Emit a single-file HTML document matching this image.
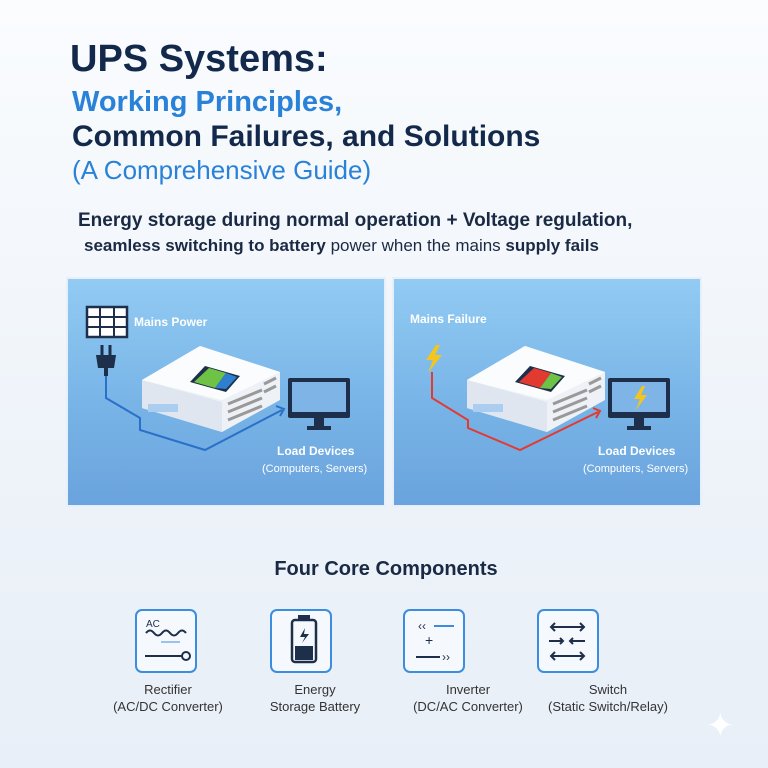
<!DOCTYPE html>
<html><head><style>
body{margin:0;width:768px;height:768px;overflow:hidden;background:linear-gradient(180deg,#fafcfe 0%,#eef3f9 60%,#e8eff8 100%);font-family:"Liberation Sans",sans-serif;position:relative}
.t{position:absolute;white-space:nowrap}
.panel{position:absolute;top:277px;height:226px;background:linear-gradient(180deg,#92cbf3 0%,#7ab6e8 50%,#6aa3dd 100%);border:2px solid #e6f0fa}
.ib{position:absolute;top:609px;width:58px;height:60px;border:2px solid #3b8de0;border-radius:7px;background:#f5f9fd}
.lb{position:absolute;top:681px;width:160px;text-align:center;font-size:13px;color:#333;line-height:17px}
</style></head><body>
<div class="t" style="left:70px;top:38px;font-size:38px;font-weight:bold;color:#13294b">UPS Systems:</div>
<div class="t" style="left:72px;top:86px;font-size:29px;font-weight:bold;color:#2a82d8">Working Principles,</div>
<div class="t" style="left:72px;top:120px;font-size:30px;font-weight:bold;color:#13294b">Common Failures, and Solutions</div>
<div class="t" style="left:72px;top:155px;font-size:26px;color:#2a82d8">(A Comprehensive Guide)</div>
<div class="t" style="left:78px;top:210px;font-size:19px;font-weight:bold;color:#1a2a44">Energy storage during normal operation + Voltage regulation,</div>
<div class="t" style="left:84px;top:236px;font-size:17px;font-weight:bold;color:#1a2a44">seamless switching to battery <span style="font-weight:normal">power when the mains</span> supply fails</div>

<div class="panel" style="left:66px;width:316px"></div>
<div class="panel" style="left:392px;width:306px"></div>
<svg width="768" height="768" style="position:absolute;left:0;top:0">
<g>
<rect x="87" y="307" width="40" height="30" fill="#fff" stroke="#1d2f4a" stroke-width="2.5"/>
<path d="M87 317H127M87 327H127M100 307V337M114 307V337" stroke="#1d2f4a" stroke-width="2"/>
<path d="M102 345V355M110 345V355" stroke="#1d2f4a" stroke-width="3"/>
<path d="M96 355H116L114 368H98Z" fill="#1d2f4a"/><rect x="104" y="368" width="4" height="8" fill="#1d2f4a"/>
<path d="M106 376V398L140 418V430L205 450L282 410" fill="none" stroke="#2a70c8" stroke-width="2"/>
<path d="M276 406L284 409L280 416" fill="none" stroke="#2a70c8" stroke-width="2"/>
<path d="M142 380L200 346L280 372L280 400L222 432L142 408Z" fill="#eef2f7"/>
<path d="M142 380L200 346L280 372L222 400Z" fill="#fbfcfe"/>
<path d="M142 380L222 402L222 432L142 408Z" fill="#dfe6ef"/>
<rect x="148" y="404" width="30" height="8" fill="#aacdf0"/>
<path d="M205 366L240 376L226 392L190 382Z" fill="#1d2f4a"/>
<path d="M209 368L226 373L215 388L194 382Z" fill="#6ec245"/><path d="M226 373L237 377L226 389L215 388Z" fill="#2f7fd0"/>
<path d="M228 404L262 390M228 412L262 398M228 420L262 406M264 384L276 378M264 392L276 386" stroke="#999" stroke-width="3"/>
<rect x="288" y="378" width="62" height="40" rx="2" fill="#1d2f4a"/><rect x="292" y="382" width="54" height="30" fill="#7fb4e6"/>
<rect x="314" y="418" width="10" height="8" fill="#1d2f4a"/><rect x="307" y="426" width="24" height="4" fill="#1d2f4a"/>
</g>
<text x="134" y="326" font-size="12" font-weight="bold" fill="#fff" font-family="Liberation Sans">Mains Power</text>
<text x="277" y="455" font-size="12" font-weight="bold" fill="#fff" font-family="Liberation Sans">Load Devices</text>
<text x="262" y="472" font-size="11" fill="#fff" font-family="Liberation Sans">(Computers, Servers)</text>
<g>
<path d="M436 345L426 360H433L428 373L442 355H435L440 345Z" fill="#f5c51c"/>
<path d="M432 372V398L468 420V428L520 450L598 412" fill="none" stroke="#e23a30" stroke-width="2"/>
<path d="M593 408L600 411L596 418" fill="none" stroke="#e23a30" stroke-width="2"/>
<path d="M467 380L525 346L605 372L605 400L547 432L467 408Z" fill="#eef2f7"/>
<path d="M467 380L525 346L605 372L547 400Z" fill="#fbfcfe"/>
<path d="M467 380L547 402L547 432L467 408Z" fill="#dfe6ef"/>
<rect x="473" y="404" width="30" height="8" fill="#aacdf0"/>
<path d="M530 366L565 376L551 392L515 382Z" fill="#1d2f4a"/>
<path d="M534 368L551 373L540 388L519 382Z" fill="#e23a30"/><path d="M551 373L562 377L551 389L540 388Z" fill="#6ec245"/>
<path d="M553 404L587 390M553 412L587 398M553 420L587 406M589 384L601 378M589 392L601 386" stroke="#999" stroke-width="3"/>
<rect x="608" y="378" width="62" height="40" rx="2" fill="#1d2f4a"/><rect x="612" y="382" width="54" height="30" fill="#7fb4e6"/>
<path d="M642 386L634 399H640L636 410L647 395H641L645 386Z" fill="#f5c51c"/>
<rect x="634" y="418" width="10" height="8" fill="#1d2f4a"/><rect x="627" y="426" width="24" height="4" fill="#1d2f4a"/>
</g>
<text x="410" y="323" font-size="12" font-weight="bold" fill="#fff" font-family="Liberation Sans">Mains Failure</text>
<text x="598" y="455" font-size="12" font-weight="bold" fill="#fff" font-family="Liberation Sans">Load Devices</text>
<text x="583" y="472" font-size="11" fill="#fff" font-family="Liberation Sans">(Computers, Servers)</text>
</svg>

<div class="t" style="left:0;width:772px;text-align:center;top:558px;font-size:20px;font-weight:bold;color:#1a2a44">Four Core Components</div>
<div class="ib" style="left:135px"></div>
<div class="ib" style="left:270px"></div>
<div class="ib" style="left:403px"></div>
<div class="ib" style="left:537px"></div>
<svg width="768" height="768" style="position:absolute;left:0;top:0" fill="none" stroke="#1d2f4a" stroke-width="2">
<text x="146" y="627" font-size="10" fill="#1d2f4a" stroke="none" font-family="Liberation Sans">AC</text>
<path d="M146 633q4-5 8 0t8 0t8 0t8 0t8 0" />
<path d="M161 642H180" stroke="#3b8de0" stroke-width="1"/>
<path d="M145 656H182"/><circle cx="186" cy="656" r="4"/>
<rect x="292" y="620" width="24" height="42" rx="3" stroke-width="2.5"/><rect x="299" y="616" width="10" height="4" fill="#1d2f4a"/>
<rect x="296" y="647" width="16" height="12" fill="#1d2f4a"/>
<path d="M305 628L300 637H305L302 643L309 634H304Z" fill="#1d2f4a" stroke="none"/>
<text x="418" y="630" font-size="12" fill="#1d2f4a" stroke="none" font-family="Liberation Sans">‹‹</text>
<path d="M434 626H454" stroke="#3b8de0"/>
<text x="425" y="645" font-size="14" fill="#1d2f4a" stroke="none" font-family="Liberation Sans">+</text>
<path d="M416 657H440" />
<text x="442" y="661" font-size="12" fill="#1d2f4a" stroke="none" font-family="Liberation Sans">››</text>
<path d="M551 627H584M555 623L551 627L555 631M580 623L584 627L580 631"/>
<path d="M549 641H563M560 638L563 641L560 644M585 641H570M573 638L570 641L573 644"/>
<path d="M551 656H584M555 652L551 656L555 660M580 652L584 656L580 660"/>
</svg>
<div class="lb" style="left:88px">Rectifier<br>(AC/DC Converter)</div>
<div class="lb" style="left:235px">Energy<br>Storage Battery</div>
<div class="lb" style="left:388px">Inverter<br>(DC/AC Converter)</div>
<div class="lb" style="left:528px">Switch<br>(Static Switch/Relay)</div>
<div class="t" style="left:706px;top:706px;font-size:34px;color:#fff">✦</div>
</body></html>
